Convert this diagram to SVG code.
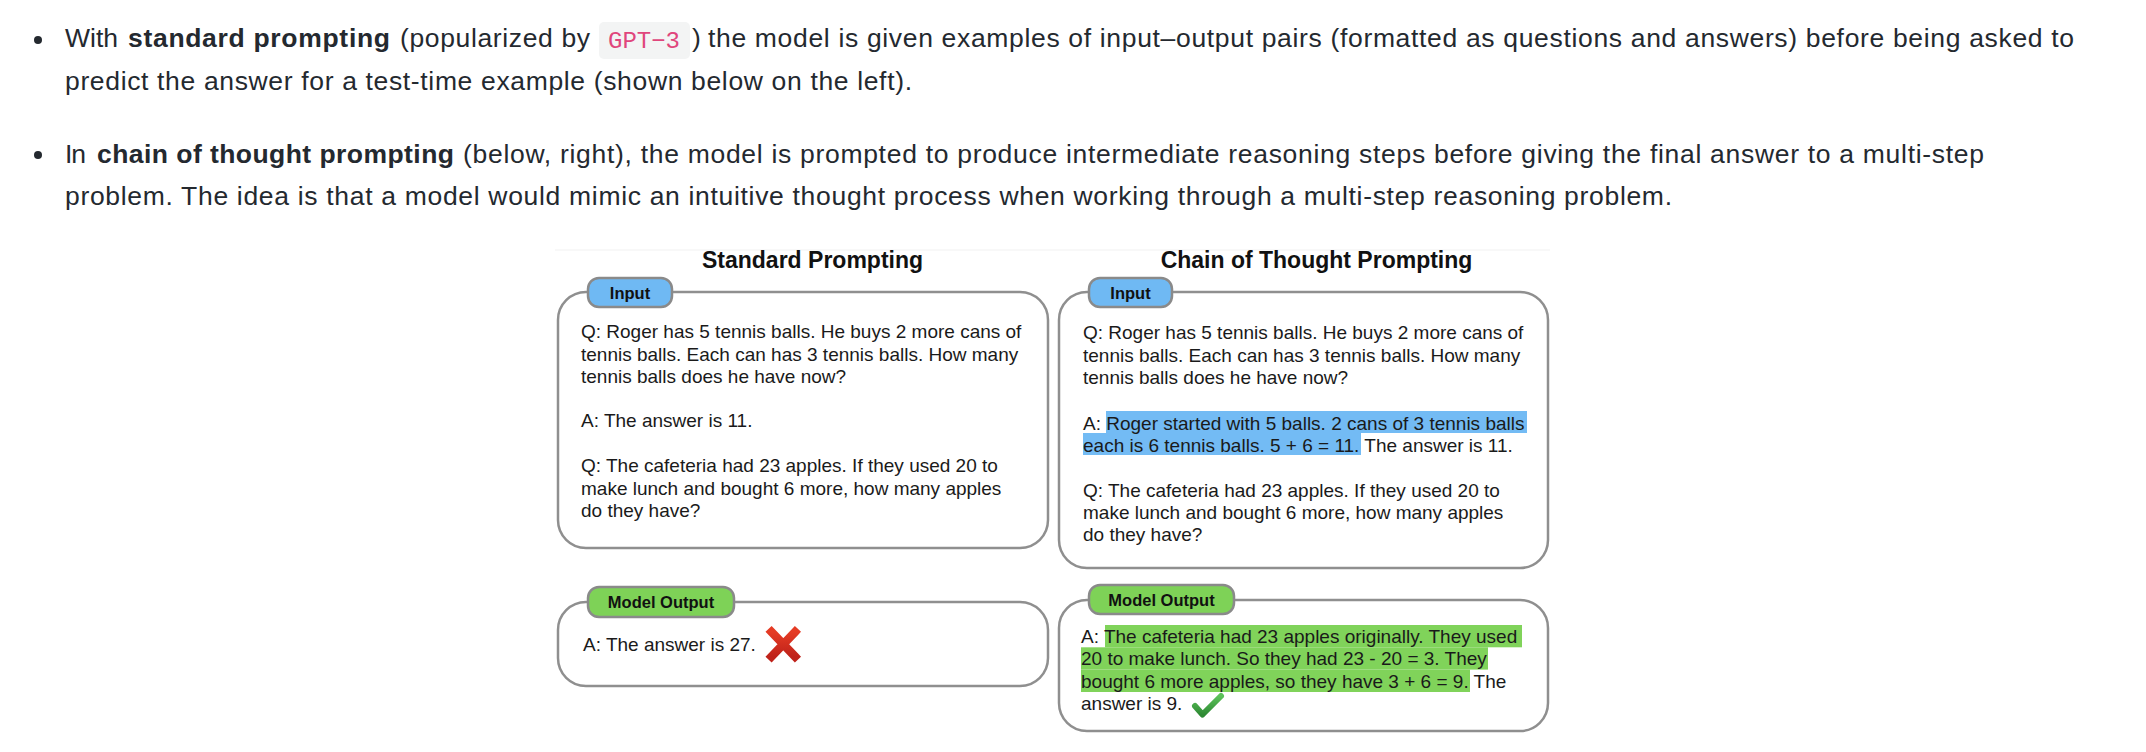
<svg xmlns="http://www.w3.org/2000/svg" width="2146" height="752" viewBox="0 0 2146 752">
  <style>
    .intro { font-family: "Liberation Sans", Arial, sans-serif; font-size: 26.5px; fill: #24292f; }
    .b { font-weight: bold; }
    .code { font-family: "Liberation Mono", "DejaVu Sans Mono", monospace; font-size: 24px; fill: #e0467c; }
    .title { font-family: "Liberation Sans", Arial, sans-serif; font-size: 23px; font-weight: bold; fill: #111; text-anchor: middle; }
    .body { font-family: "Liberation Sans", Arial, sans-serif; font-size: 19px; fill: #1a1a1a; }
    .pilltxt { font-family: "Liberation Sans", Arial, sans-serif; font-size: 16.5px; font-weight: bold; fill: #111; text-anchor: middle; }
    .box { fill: #ffffff; stroke: #8f8f8f; stroke-width: 2.5; }
    .pill-in { fill: #6fb9f3; stroke: #8a8a8a; stroke-width: 2.5; }
    .pill-out { fill: #7ed257; stroke: #8a8a8a; stroke-width: 2.5; }
    .hl-blue { fill: #73bbf4; }
    .hl-green { fill: #80d35a; }
  </style>
  <defs>
    <linearGradient id="redg" x1="0" y1="0" x2="0" y2="1">
      <stop offset="0" stop-color="#e53b24"/>
      <stop offset="1" stop-color="#bf221a"/>
    </linearGradient>
    <linearGradient id="greeng" x1="0" y1="0" x2="0" y2="1">
      <stop offset="0" stop-color="#5cc25a"/>
      <stop offset="1" stop-color="#2f8a34"/>
    </linearGradient>
  </defs>
  <rect width="2146" height="752" fill="#ffffff"/>

  <g id="intro">
    <circle cx="38" cy="40" r="4" fill="#24292f"/>
    <text class="intro" x="65" y="47" textLength="53" lengthAdjust="spacing">With</text>
    <text class="intro b" x="128" y="47" textLength="262" lengthAdjust="spacing">standard prompting</text>
    <text class="intro" x="400" y="47" textLength="190" lengthAdjust="spacing">(popularized by</text>
    <rect x="599" y="22" width="91" height="37" rx="5" fill="#f3f4f4"/>
    <text class="code" x="608" y="48" textLength="72" lengthAdjust="spacing">GPT−3</text>
    <text class="intro" x="692" y="47">)</text>
    <text class="intro" x="708" y="47" textLength="1366" lengthAdjust="spacing">the model is given examples of input–output pairs (formatted as questions and answers) before being asked to</text>
    <text class="intro" x="65" y="90" textLength="847" lengthAdjust="spacing">predict the answer for a test-time example (shown below on the left).</text>
    <circle cx="38" cy="155" r="4" fill="#24292f"/>
    <text class="intro" x="65" y="163" textLength="21" lengthAdjust="spacing">In</text>
    <text class="intro b" x="97" y="163" textLength="357" lengthAdjust="spacing">chain of thought prompting</text>
    <text class="intro" x="463" y="163" textLength="1521" lengthAdjust="spacing">(below, right), the model is prompted to produce intermediate reasoning steps before giving the final answer to a multi-step</text>
    <text class="intro" x="65" y="205" textLength="1607" lengthAdjust="spacing">problem. The idea is that a model would mimic an intuitive thought process when working through a multi-step reasoning problem.</text>
  </g>

  <line x1="555" y1="250" x2="1550" y2="250" stroke="#f1f1f1" stroke-width="1"/>

  <g id="titles">
    <text class="title" x="812.5" y="268">Standard Prompting</text>
    <text class="title" x="1316.5" y="268">Chain of Thought Prompting</text>
  </g>

  <g id="connectors"></g>

  <g id="std-input">
    <rect class="box" x="558" y="292" width="490" height="256" rx="28"/>
    <rect class="pill-in" x="588" y="278" width="84" height="29" rx="11"/>
    <text class="pilltxt" x="630" y="298.5">Input</text>
    <text class="body" x="581" y="338">Q: Roger has 5 tennis balls. He buys 2 more cans of</text>
    <text class="body" x="581" y="360.5">tennis balls. Each can has 3 tennis balls. How many</text>
    <text class="body" x="581" y="383">tennis balls does he have now?</text>
    <text class="body" x="581" y="427">A: The answer is 11.</text>
    <text class="body" x="581" y="472">Q: The cafeteria had 23 apples. If they used 20 to</text>
    <text class="body" x="581" y="494.5">make lunch and bought 6 more, how many apples</text>
    <text class="body" x="581" y="517">do they have?</text>
  </g>

  <g id="cot-input">
    <rect class="box" x="1059" y="292" width="489" height="276" rx="28"/>
    <rect class="pill-in" x="1089" y="278" width="83" height="29" rx="11"/>
    <text class="pilltxt" x="1130.5" y="299">Input</text>
    <text class="body" x="1083" y="339">Q: Roger has 5 tennis balls. He buys 2 more cans of</text>
    <text class="body" x="1083" y="361.5">tennis balls. Each can has 3 tennis balls. How many</text>
    <text class="body" x="1083" y="384">tennis balls does he have now?</text>
    <rect class="hl-blue" x="1106" y="411" width="421" height="22"/>
    <rect class="hl-blue" x="1083" y="433" width="278" height="22"/>
    <text class="body" x="1083" y="429.5">A: Roger started with 5 balls. 2 cans of 3 tennis balls</text>
    <text class="body" x="1083" y="451.5">each is 6 tennis balls. 5 + 6 = 11. The answer is 11.</text>
    <text class="body" x="1083" y="497">Q: The cafeteria had 23 apples. If they used 20 to</text>
    <text class="body" x="1083" y="519">make lunch and bought 6 more, how many apples</text>
    <text class="body" x="1083" y="541">do they have?</text>
  </g>

  <g id="std-output">
    <rect class="box" x="558" y="602" width="490" height="84" rx="28"/>
    <rect class="pill-out" x="588" y="587" width="146" height="30" rx="11"/>
    <text class="pilltxt" x="661" y="608">Model Output</text>
    <text class="body" x="583" y="651">A: The answer is 27.</text>
    <path d="M771.5 632 L795 656.5 M795 632 L771.5 656.5" stroke="url(#redg)" stroke-width="8.5" stroke-linecap="square" fill="none"/>
  </g>

  <g id="cot-output">
    <rect class="box" x="1059" y="600" width="489" height="131" rx="28"/>
    <rect class="pill-out" x="1089" y="585" width="145" height="29" rx="11"/>
    <text class="pilltxt" x="1161.5" y="606">Model Output</text>
    <rect class="hl-green" x="1105" y="625" width="417" height="22.3"/>
    <rect class="hl-green" x="1081" y="647.3" width="407" height="22.3"/>
    <rect class="hl-green" x="1081" y="669.6" width="389" height="22.4"/>
    <text class="body" x="1081" y="643">A: The cafeteria had 23 apples originally. They used</text>
    <text class="body" x="1081" y="665.3">20 to make lunch. So they had 23 - 20 = 3. They</text>
    <text class="body" x="1081" y="687.6">bought 6 more apples, so they have 3 + 6 = 9. The</text>
    <text class="body" x="1081" y="709.5">answer is 9.</text>
    <path d="M1195 706 L1202.5 714.5 L1221 696" stroke="url(#greeng)" stroke-width="6" stroke-linecap="round" stroke-linejoin="round" fill="none"/>
  </g>
</svg>
